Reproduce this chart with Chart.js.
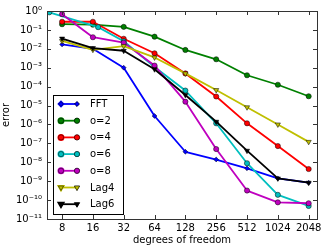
<!DOCTYPE html>
<html>
<head>
<meta charset="utf-8">
<script src="https://cdn.jsdelivr.net/npm/chart.js@4"></script>
<style>
  html, body { margin: 0; padding: 0; background: #fff; }
  #wrap { width: 327px; height: 252px; }
</style>
</head>
<body>
<div id="wrap"><canvas id="errChart" width="327" height="252"></canvas></div>
<script>
// degrees of freedom
const dofs = [8, 16, 32, 64, 128, 256, 512, 1024, 2048];
const dofsO6 = [6, 18, 32, 64, 128, 256, 512, 1024, 2048];

// error values
const errFFT  = [1.7e-2, 1.0e-2, 1.0e-3, 2.8e-6, 3.6e-8, 1.4e-8, 4.8e-9, 1.4e-9, 8.3e-10];
const errO2   = [0.20, 0.19, 0.145, 0.044, 8.7e-3, 2.8e-3, 4.0e-4, 1.26e-4, 3.1e-5];
const errO4   = [0.27, 0.27, 0.034, 5.8e-3, 5.0e-4, 3.0e-5, 1.15e-6, 7.2e-8, 4.4e-9];
const errO6   = [0.85, 0.14, 0.025, 1.1e-3, 6.2e-5, 1.15e-6, 8.9e-9, 1.9e-10, 4.9e-11];
const errO8   = [0.68, 0.041, 0.021, 1.3e-3, 1.6e-5, 5.0e-8, 3.2e-10, 7.6e-11, 6.8e-11];
const errLag4 = [0.026, 8.9e-3, 0.014, 3.5e-3, 5.0e-4, 6.6e-5, 8.1e-6, 1.0e-6, 1.2e-7];
const errLag6 = [0.035, 0.011, 7.9e-3, 8.3e-4, 3.6e-5, 1.4e-6, 4.1e-8, 1.4e-9, 8.3e-10];

const xTicks = [8, 16, 32, 64, 128, 256, 512, 1024, 2048];
const yExps = [0, -1, -2, -3, -4, -5, -6, -7, -8, -9, -10, -11];

const sup = { '-': '\u207B', '0': '\u2070', '1': '\u00B9', '2': '\u00B2', '3': '\u00B3', '4': '\u2074',
  '5': '\u2075', '6': '\u2076', '7': '\u2077', '8': '\u2078', '9': '\u2079' };
function powLabel(e) {
  return '10' + String(e).split('').map(c => sup[c]).join('');
}

function pts(xs, ys) {
  return xs.map((x, i) => ({ x: x, y: ys[i] }));
}

function series(label, xs, ys, color, style) {
  return {
    label: label,
    data: pts(xs, ys),
    borderColor: color,
    backgroundColor: color,
    pointBorderColor: '#000',
    pointBorderWidth: 0.5,
    borderWidth: 1.8,
    pointStyle: style.shape,
    pointRadius: style.r,
    pointRotation: style.rot || 0,
    tension: 0,
    fill: false,
  };
}

const circ = { shape: 'circle', r: 2.6 };
const tri = { shape: 'triangle', r: 3, rot: 180 };
const dia = { shape: 'rectRot', r: 2.4 };

const datasets = [
  series('FFT', dofs, errFFT, '#0000ff', dia),
  series('o=2', dofs, errO2, '#008000', circ),
  series('o=4', dofs, errO4, '#ff0000', circ),
  series('o=6', dofsO6, errO6, '#00bfbf', circ),
  series('o=8', dofs, errO8, '#bf00bf', circ),
  series('Lag4', dofs, errLag4, '#bfbf00', tri),
  series('Lag6', dofs, errLag6, '#000000', tri),
];
// later series on top, like the original
datasets.forEach((d, i) => { d.order = datasets.length - i; });

// frame with inward ticks on all four sides
const framePlugin = {
  id: 'frame',
  afterDatasetsDraw(chart) {
    const ctx = chart.ctx, a = chart.chartArea;
    const xs = chart.scales.x, ys = chart.scales.y;
    ctx.save();
    ctx.strokeStyle = '#333';
    ctx.lineWidth = 1;
    ctx.beginPath();
    xTicks.forEach(t => {
      const px = Math.round(xs.getPixelForValue(t)) + 0.5;
      ctx.moveTo(px, a.bottom); ctx.lineTo(px, a.bottom - 4);
      ctx.moveTo(px, a.top); ctx.lineTo(px, a.top + 4);
    });
    yExps.forEach(e => {
      const py = Math.round(ys.getPixelForValue(Math.pow(10, e))) + 0.5;
      ctx.moveTo(a.left, py); ctx.lineTo(a.left + 4, py);
      ctx.moveTo(a.right, py); ctx.lineTo(a.right - 4, py);
    });
    ctx.stroke();
    ctx.strokeRect(Math.round(a.left) + 0.5, Math.round(a.top) + 0.5,
      Math.round(a.right - a.left), Math.round(a.bottom - a.top));
    ctx.restore();
  }
};

// legend box in the lower left of the plot
const legendPlugin = {
  id: 'insideLegend',
  afterDraw(chart) {
    const ctx = chart.ctx;
    const bx = 53, by = 95, bw = 70, bh = 119, step = 16.7;
    ctx.save();
    ctx.fillStyle = '#fff';
    ctx.fillRect(bx, by, bw, bh);
    ctx.strokeStyle = '#000';
    ctx.lineWidth = 1;
    ctx.strokeRect(bx + 0.5, by + 0.5, bw, bh);
    ctx.font = '10px "DejaVu Sans"';
    ctx.textBaseline = 'middle';
    chart.data.datasets.forEach((d, i) => {
      const y = by + 9 + i * step;
      ctx.strokeStyle = d.borderColor;
      ctx.lineWidth = d.borderWidth;
      ctx.beginPath();
      ctx.moveTo(61, y); ctx.lineTo(77, y);
      ctx.stroke();
      [61, 77].forEach(x => {
        Chart.helpers.drawPoint(ctx, {
          pointStyle: d.pointStyle, radius: d.pointRadius,
          rotation: d.pointRotation, borderWidth: 0.5
        }, x, y);
        ctx.fillStyle = d.backgroundColor;
        ctx.strokeStyle = '#000';
        ctx.lineWidth = 0.5;
        ctx.beginPath();
        Chart.helpers.drawPoint(ctx, {
          pointStyle: d.pointStyle, radius: d.pointRadius,
          rotation: d.pointRotation, borderWidth: 0.5
        }, x, y);
      });
      ctx.fillStyle = '#000';
      ctx.fillText(d.label, 90, y + 0.5);
    });
    ctx.restore();
  }
};

const ctx = document.getElementById('errChart').getContext('2d');
const errChart = new Chart(ctx, {
  type: 'line',
  data: { datasets: datasets },
  options: {
    responsive: false,
    animation: false,
    devicePixelRatio: 1,
    layout: { padding: { left: 0, top: 11, right: 10, bottom: 0 } },
    plugins: { legend: { display: false }, tooltip: { enabled: false } },
    elements: { line: { borderJoinStyle: 'round' } },
    scales: {
      x: {
        type: 'logarithmic',
        min: 5.7,
        max: 2470,
        afterBuildTicks(scale) { scale.ticks = xTicks.map(v => ({ value: v })); },
        afterFit(scale) { scale.height = 33; },
        ticks: {
          autoSkip: false, maxRotation: 0, padding: 3,
          color: '#000', font: { family: 'DejaVu Sans', size: 10 },
          callback: v => String(v)
        },
        grid: { display: false, drawTicks: false },
        border: { display: false },
        title: {
          display: true, text: 'degrees of freedom', color: '#000',
          font: { family: 'DejaVu Sans', size: 10 }, padding: { top: 0, bottom: 6 }
        }
      },
      y: {
        type: 'logarithmic',
        min: 1e-11,
        max: 1,
        afterBuildTicks(scale) { scale.ticks = yExps.map(e => ({ value: Math.pow(10, e) })); },
        afterFit(scale) { scale.width = 47; },
        ticks: {
          autoSkip: false, padding: 5,
          color: '#000', font: { family: 'DejaVu Sans', size: 10 },
          callback: v => powLabel(Math.round(Math.log10(v)))
        },
        grid: { display: false, drawTicks: false },
        border: { display: false },
        title: {
          display: true, text: 'error', color: '#000',
          font: { family: 'DejaVu Sans', size: 10 }, padding: { top: 0, bottom: 0 }
        }
      }
    }
  },
  plugins: [framePlugin, legendPlugin]
});
</script>
</body>
</html>
